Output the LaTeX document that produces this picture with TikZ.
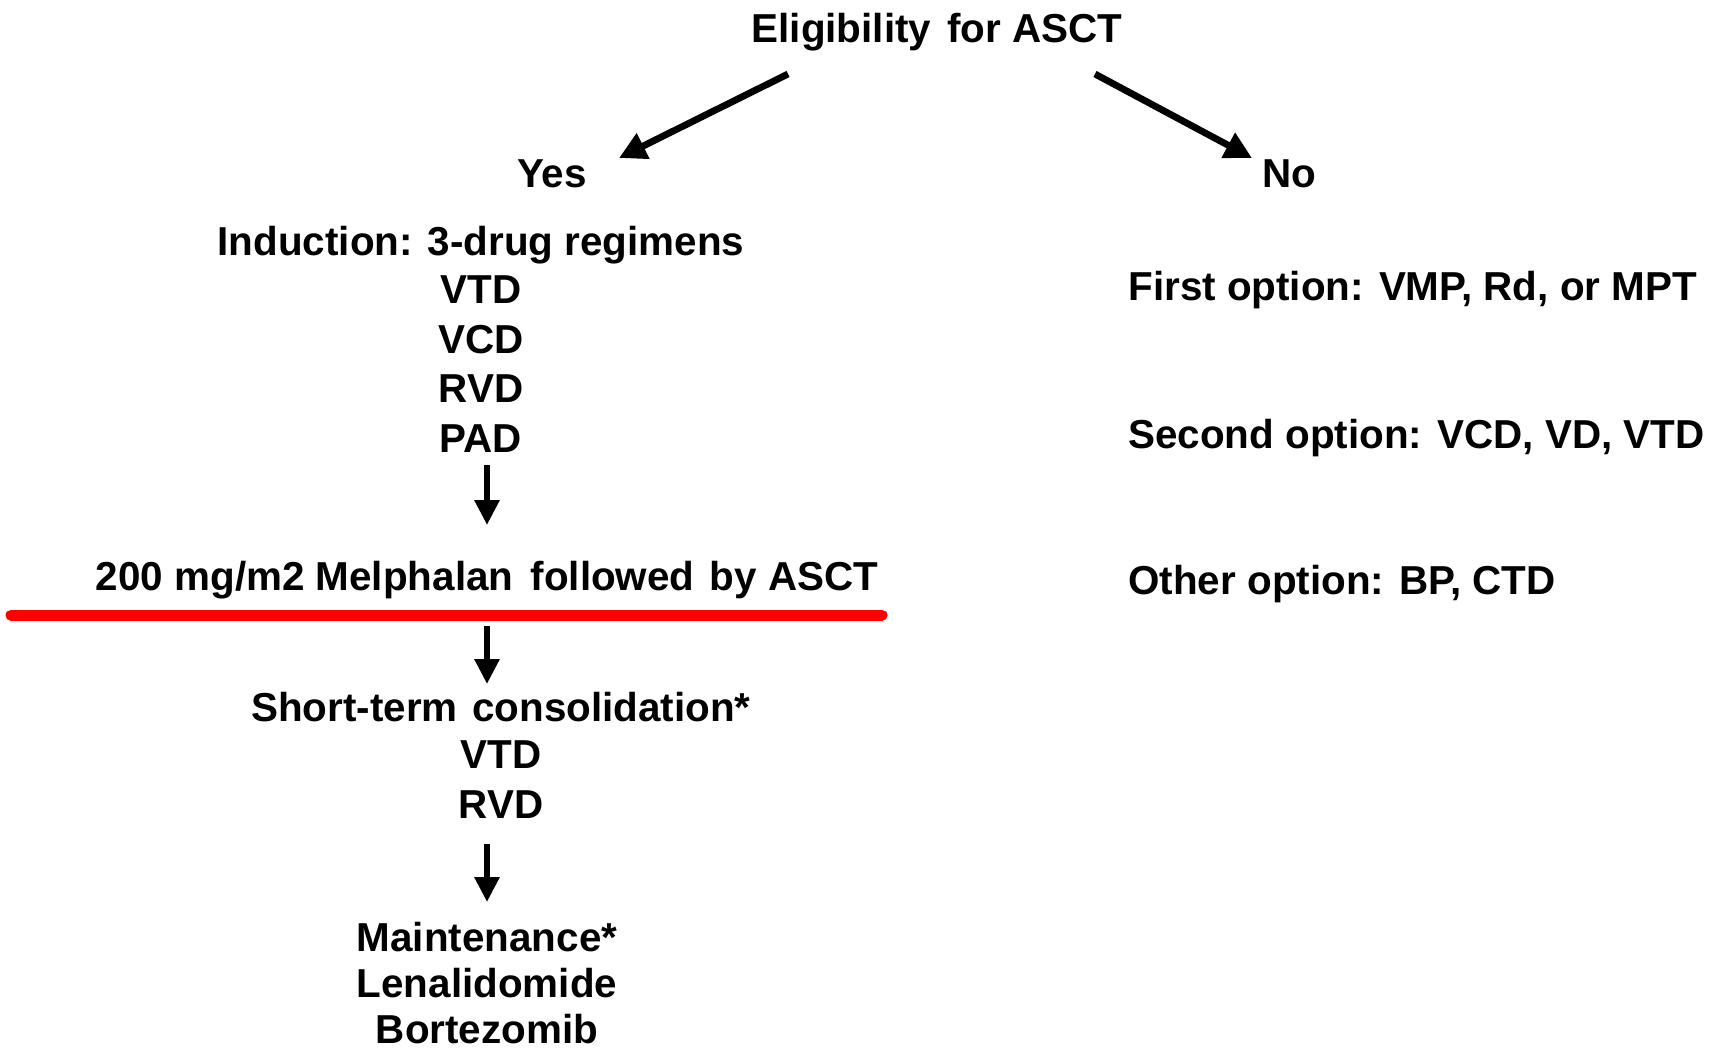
\documentclass[tikz,border=0pt]{standalone}
\usepackage{fontspec}
\setmainfont{Liberation Sans}
\usetikzlibrary{arrows.meta}
\begin{document}
\begin{tikzpicture}[x=0.5pt,y=-0.5pt,
  lbl/.style={inner sep=0pt,anchor=base,font=\fontsize{20.2}{24}\selectfont\bfseries},
  lblL/.style={lbl,anchor=base west},
  arr/.style={line width=3pt,-{Triangle[length=12.5pt,width=12pt]}},
  darr/.style={line width=3.4pt,-{Triangle[length=13.5pt,width=13.5pt]}},
  redrule/.style={line width=5.5pt,red,line cap=round}]
\useasboundingbox (0,0) rectangle (1712,1051);
% top
\node[lbl] (elig) at (937,42) {Eligibility\hspace{0.12em} for ASCT};
\node[lbl] (yes) at (552,187) {Yes};
\node[lbl] (no) at (1289,187) {No};
\coordinate (l1) at (788,74);
\coordinate (l2) at (619,158);
\coordinate (r1) at (1095,74);
\coordinate (r2) at (1252,158);
\draw[darr] (l1) -- (l2);
\draw[darr] (r1) -- (r2);
% left column
\node[lbl] (ind) at (481,255) {Induction: 3-drug regimens};
\node[lbl] (vtd1) at (481,303) {VTD};
\node[lbl] (vcd1) at (481,353) {VCD};
\node[lbl] (rvd1) at (481,402) {RVD};
\node[lbl] (pad1) at (481,452) {PAD};
\coordinate (a1s) at (487,465);
\coordinate (a1e) at (487,525);
\draw[arr] (a1s) -- (a1e);
\node[lbl] (mel) at (487,590) {200 mg/m2 Melphalan\hspace{0.15em} followed\hspace{0.1em} by ASCT};
\coordinate (rl1) at (11,615);
\coordinate (rl2) at (882,615);
\draw[redrule] (rl1) -- (rl2);
\coordinate (a2s) at (487,626);
\coordinate (a2e) at (487,684);
\draw[arr] (a2s) -- (a2e);
\node[lbl] (cons) at (501,721) {Short-term\hspace{0.08em} consolidation*};
\node[lbl] (vtd2) at (501,768) {VTD};
\node[lbl] (rvd2) at (501,818) {RVD};
\coordinate (a3s) at (487,844);
\coordinate (a3e) at (487,902);
\draw[arr] (a3s) -- (a3e);
\node[lbl] (maint) at (487,951) {Maintenance*};
\node[lbl] (lena) at (487,997) {Lenalidomide};
\node[lbl] (bort) at (487,1043) {Bortezomib};
% right column
\node[lblL] (opt1) at (1128,300) {First option: VMP, Rd, or MPT};
\node[lblL] (opt2) at (1128,448) {Second option: VCD, VD, VTD};
\node[lblL] (opt3) at (1128,594) {Other option: BP, CTD};
\end{tikzpicture}
\end{document}
